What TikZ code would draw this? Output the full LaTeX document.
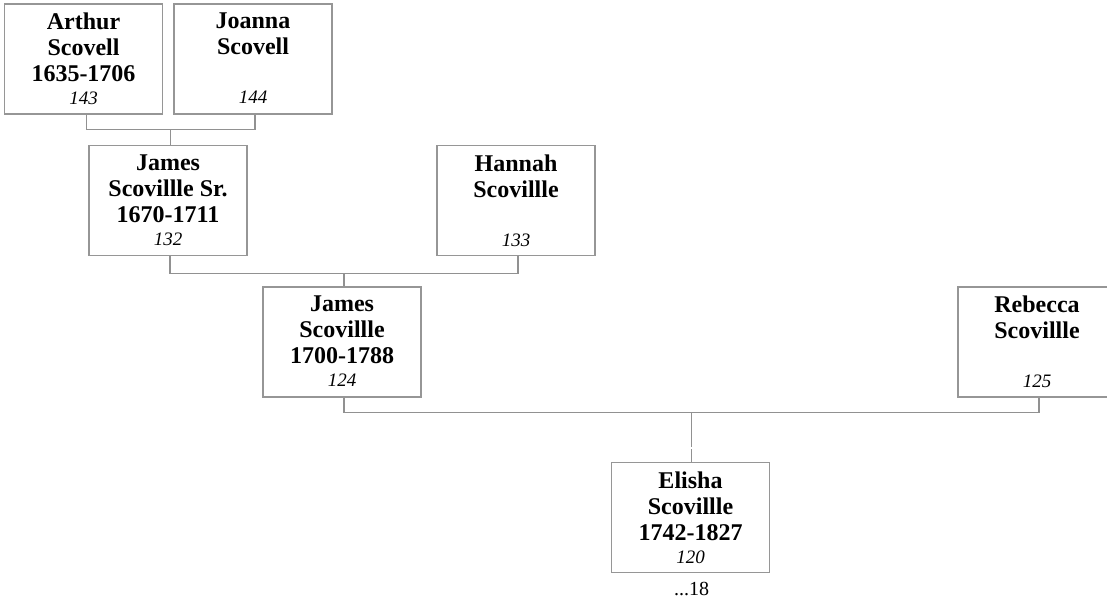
\documentclass[tikz,border=0pt]{standalone}
\usepackage{fontspec}
\setmainfont{Liberation Serif}
\usetikzlibrary{calc}
\definecolor{boxgray}{RGB}{150,150,150}
\definecolor{linegray}{RGB}{145,145,145}
\newcommand{\pnum}[1]{{\fontsize{19}{23}\selectfont\mdseries\itshape #1}}
\begin{document}
\begin{tikzpicture}[x=1pt,y=-1pt,
  pbox/.style={draw=boxgray, line width=1.3pt, fill=white, minimum width=158pt, minimum height=110pt, inner sep=0pt},
  ptext/.style={anchor=north, align=center, inner sep=0pt, font=\fontsize{24}{26}\selectfont\bfseries},
  link/.style={draw=linegray, line width=1.3pt},
  more/.style={anchor=base, inner sep=0pt, font=\fontsize{20}{24}\selectfont}]
\useasboundingbox (0,0) rectangle (1107,603);
% boxes
\node[pbox] (arthur)  at (83.5,59) {};
\node[pbox] (joanna)  at (253,59) {};
\node[pbox] (jamessr) at (168,200.5) {};
\node[pbox] (hannah)  at (516,200.5) {};
\node[pbox] (james)   at (342,342) {};
\node[pbox] (rebecca) at (1037,342) {};
\node[pbox] (elisha)  at (690.5,517.5) {};
% texts
\node[ptext] (tarthur)  at ($(arthur.north)+(0,9.5)$)  {Arthur\\Scovell\\1635-1706\\[-3pt]\pnum{143}};
\node[ptext] (tjoanna)  at ($(joanna.north)+(0,9.5)$)  {Joanna\\Scovell\\\mbox{}\\[-3pt]\pnum{144}};
\node[ptext] (tjamessr) at ($(jamessr.north)+(0,9.5)$) {James\\Scovillle Sr.\\1670-1711\\[-3pt]\pnum{132}};
\node[ptext] (thannah)  at ($(hannah.north)+(0,9.5)$)  {Hannah\\Scovillle\\\mbox{}\\[-3pt]\pnum{133}};
\node[ptext] (tjames)   at ($(james.north)+(0,9.5)$)   {James\\Scovillle\\1700-1788\\[-3pt]\pnum{124}};
\node[ptext] (trebecca) at ($(rebecca.north)+(0,9.5)$) {Rebecca\\Scovillle\\\mbox{}\\[-3pt]\pnum{125}};
\node[ptext] (telisha)  at ($(elisha.north)+(0,9.5)$)  {Elisha\\Scovillle\\1742-1827\\[-3pt]\pnum{120}};
\node[more] (elmore) at ($(elisha.south)+(1,22)$) {...18};
% connectors
\coordinate (a1) at ($(arthur.south)+(3,15)$);
\coordinate (a2) at ($(joanna.south)+(2,15)$);
\coordinate (am) at ($(a1)!0.5!(a2)$);
\draw[link] ($(arthur.south)+(3,0)$) -- (a1) -- (a2) -- ($(joanna.south)+(2,0)$);
\draw[link] (am) -- (am |- jamessr.north);
\coordinate (b1) at ($(jamessr.south)+(2,17)$);
\coordinate (b2) at ($(hannah.south)+(2,17)$);
\coordinate (bm) at ($(b1)!0.5!(b2)$);
\draw[link] ($(jamessr.south)+(2,0)$) -- (b1) -- (b2) -- ($(hannah.south)+(2,0)$);
\draw[link] (bm) -- (bm |- james.north);
\coordinate (c1) at ($(james.south)+(2,15)$);
\coordinate (c2) at ($(rebecca.south)+(2,15)$);
\coordinate (cm) at ($(c1)!0.5!(c2)$);
\coordinate (cg) at ($(cm)+(0,34.5)$);
\coordinate (ch) at ($(cm)+(0,36.5)$);
\draw[link] ($(james.south)+(2,0)$) -- (c1) -- (c2) -- ($(rebecca.south)+(2,0)$);
\draw[link] (cm) -- (cg);
\draw[link] (ch) -- (ch |- elisha.north);
\end{tikzpicture}
\end{document}
